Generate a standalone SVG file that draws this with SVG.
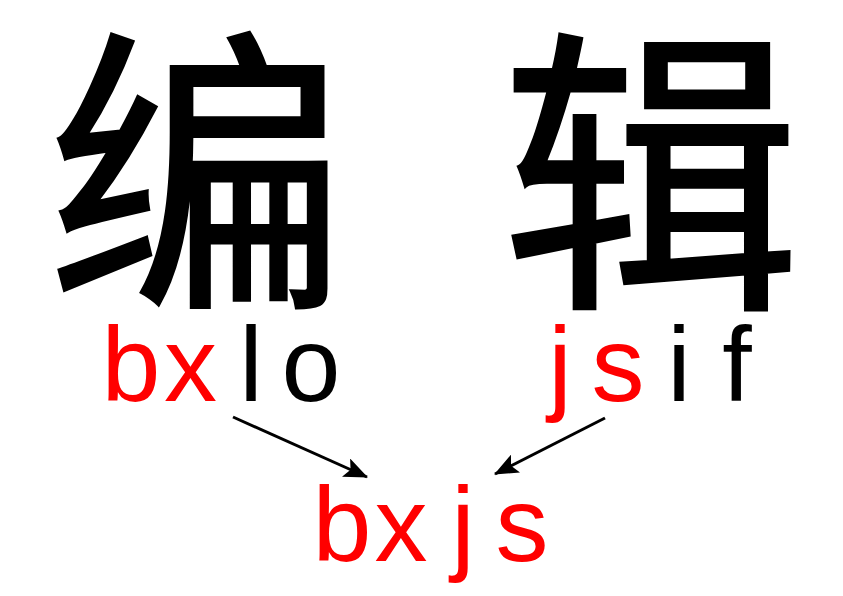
<svg xmlns="http://www.w3.org/2000/svg" width="843" height="596" viewBox="0 0 843 596">
<defs>
<marker id="ah" markerWidth="24" markerHeight="20" refX="23" refY="10" orient="auto" markerUnits="userSpaceOnUse">
<path d="M0,0 L24,10 L0,20 L5,10 Z" fill="#000"/>
</marker>
<style>
.han{font-family:"Noto Sans CJK SC","Noto Sans CJK JP",sans-serif;font-size:300px;fill:#000;text-anchor:middle;stroke:#000;stroke-width:3}
.lat{font-family:"Liberation Sans",Arial,sans-serif;font-size:106px;text-anchor:middle}
.r{fill:#ff0000}
.k{fill:#000}
.conn line{stroke:#000;stroke-width:3;marker-end:url(#ah)}
</style>
</defs>
<rect width="843" height="596" fill="#fff"/>
<g id="bian">
<text class="han" x="197" y="286">编</text>
<text class="lat" y="401"><tspan class="r" x="131">b</tspan><tspan class="r" x="190.5">x</tspan><tspan class="k" x="251">l</tspan><tspan class="k" x="311">o</tspan></text>
</g>
<g id="ji">
<text class="han" x="651" y="286">辑</text>
<text class="lat" y="401"><tspan class="r" x="560">j</tspan><tspan class="r" x="618">s</tspan><tspan class="k" x="679">i</tspan><tspan class="k" x="737">f</tspan></text>
</g>
<g id="result">
<text class="lat r" y="561"><tspan x="342">b</tspan><tspan x="401">x</tspan><tspan x="463">j</tspan><tspan x="522">s</tspan></text>
</g>
<g class="conn" id="connectors">
<line x1="233" y1="417" x2="367" y2="477"/>
<line x1="605" y1="418" x2="495" y2="474"/>
</g>
</svg>
